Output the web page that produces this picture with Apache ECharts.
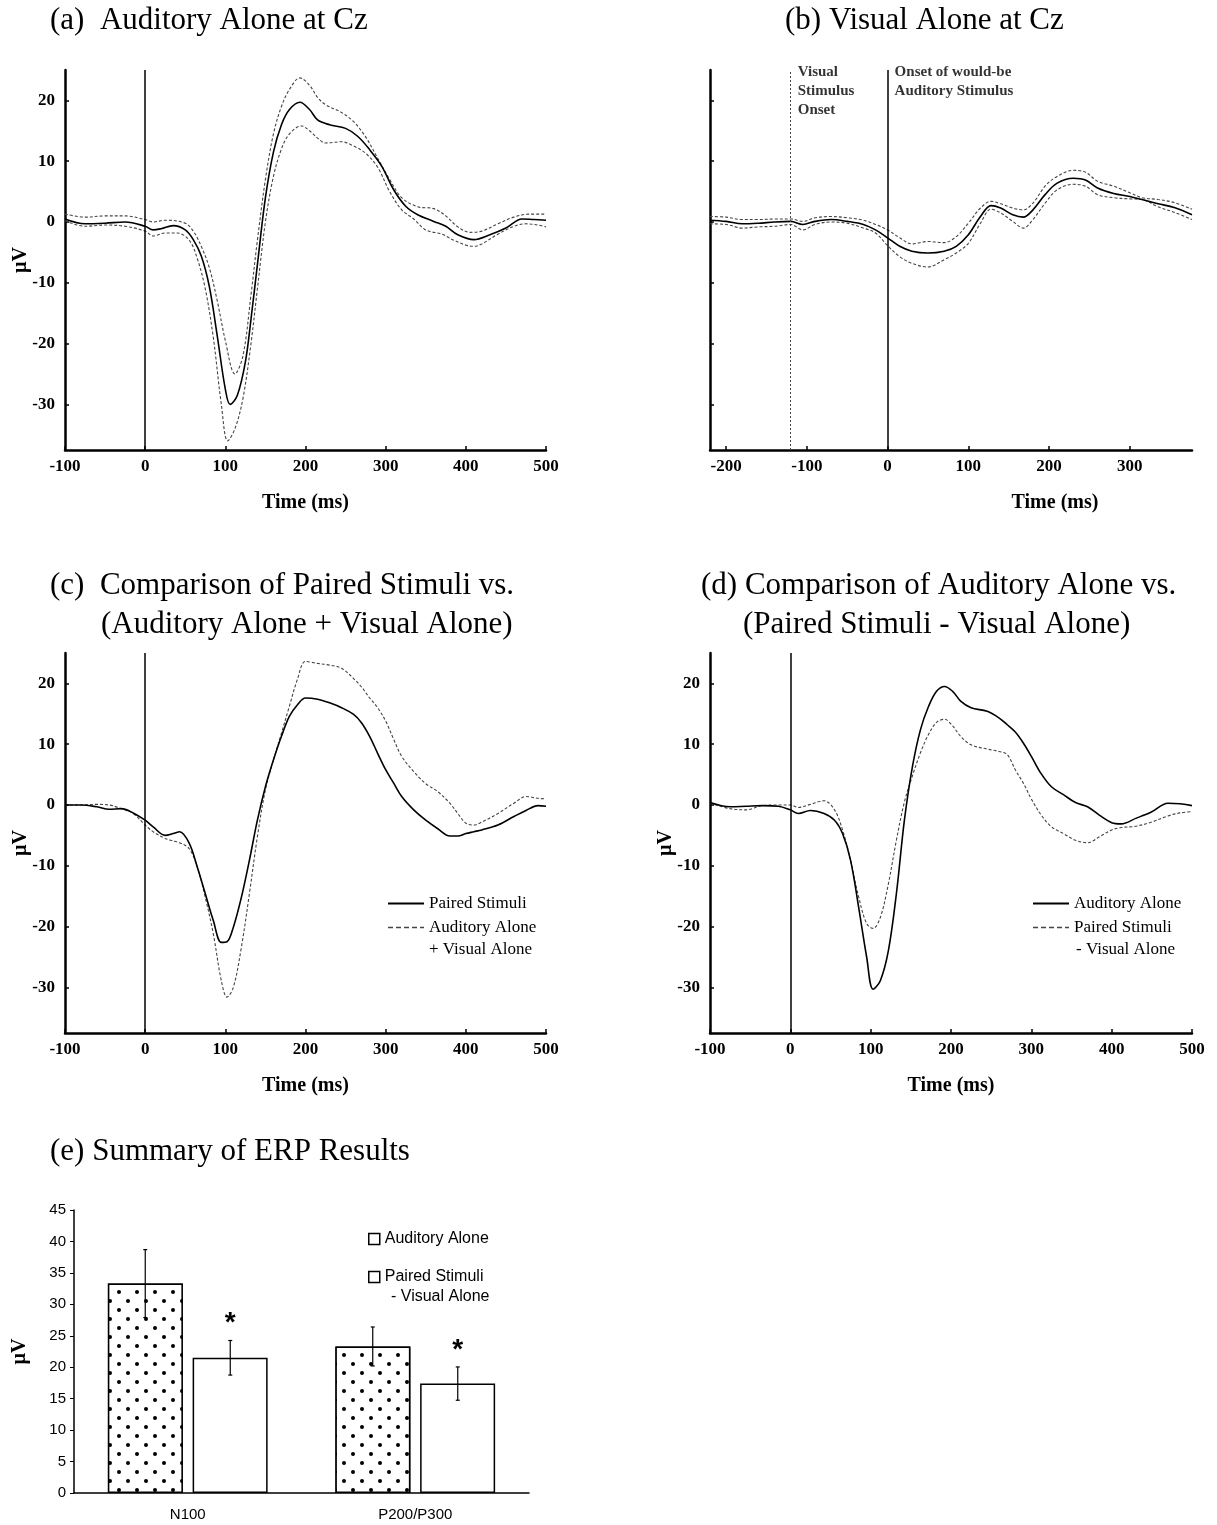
<!DOCTYPE html>
<html>
<head>
<meta charset="utf-8">
<title>ERP results</title>
<script src="https://cdn.jsdelivr.net/npm/echarts@6.0.0/dist/echarts.min.js"></script>
<style>
  body { margin: 0; background: #fff; }
  .panel { position: absolute; }
</style>
</head>
<body>
<div class="panel" id="chart-a" style="left:0;top:0;width:608px;height:530px"></div>
<div class="panel" id="chart-b" style="left:608px;top:0;width:609px;height:530px"></div>
<div class="panel" id="chart-c" style="left:0;top:540px;width:608px;height:570px"></div>
<div class="panel" id="chart-d" style="left:608px;top:540px;width:609px;height:570px"></div>
<div class="panel" id="chart-e" style="left:0;top:1110px;width:608px;height:415px"></div>
<script>
const SERIF = 'Liberation Serif'
const SANS = 'Liberation Sans'

// tick values
const voltTicks = [-30, -20, -10, 0, 10, 20]
const erpTimeTicks = [-100, 0, 100, 200, 300, 400, 500]
const visTimeTicks = [-200, -100, 0, 100, 200, 300]

// (a) auditory alone at Cz: mean and dashed bounds
const aMeanT = [-100, -75, -50, -25, 0, 10, 20, 35, 50, 60, 70, 80, 90, 100, 106, 115, 125, 132, 140, 150, 160, 170, 180, 193, 205, 215, 230, 250, 265, 280, 295, 310, 325, 340, 360, 375, 390, 410, 430, 450, 470, 485, 500]
const aMeanV = [0.5, -0.3, -0.2, 0, -0.7, -1.3, -1.1, -0.6, -1.3, -2.9, -5.6, -10.6, -18.8, -27.5, -30, -28.5, -23, -16, -7, 4, 11.5, 16, 18.5, 19.7, 18.5, 16.8, 16, 15.4, 14.1, 11.9, 9.2, 5.3, 2.6, 1.2, 0.1, -0.7, -2.1, -2.9, -2.1, -1, 0.5, 0.4, 0.3]
const aUpperT = [-100, -75, -50, -25, 0, 10, 25, 50, 60, 70, 80, 90, 100, 112, 122, 132, 140, 150, 160, 170, 180, 193, 205, 215, 225, 245, 260, 275, 290, 305, 320, 340, 360, 375, 390, 405, 420, 440, 460, 480, 500]
const aUpperV = [1.3, 0.8, 1.0, 1.0, 0.4, 0, 0.3, -0.2, -1.5, -4, -7.5, -13, -19.5, -25, -22, -12, -3, 7, 14.5, 19, 21.8, 23.7, 22.5, 20.5, 19.3, 18, 16.5, 14, 10.5, 7, 4, 2.5, 2.2, 1, -0.8, -1.7, -1.5, -0.3, 0.8, 1.3, 1.3]
const aLowerT = [-100, -75, -50, -25, 0, 10, 25, 40, 55, 65, 75, 85, 95, 103, 112, 122, 132, 140, 150, 160, 170, 180, 195, 205, 215, 225, 245, 260, 275, 290, 305, 320, 335, 350, 370, 385, 400, 410, 420, 440, 460, 475, 490, 500]
const aLowerV = [0.2, -0.7, -0.5, -0.7, -1.5, -2.3, -1.8, -1.8, -3, -6, -11, -19, -30, -36, -34, -29, -20, -11, 0, 7.5, 12, 14.5, 15.8, 15, 13.8, 13, 13.2, 12.5, 11.3, 9, 5, 2, 0.5, -1.3, -2, -3, -3.8, -4, -3.6, -2, -0.7, -0.3, -0.5, -0.8]

// (b) visual alone at Cz
const bT = [-220, -200, -180, -160, -140, -120, -105, -90, -70, -50, -30, -15, 0, 15, 30, 50, 70, 85, 100, 115, 128, 140, 155, 168, 180, 195, 210, 230, 245, 260, 280, 300, 315, 335, 355, 377]
const bMeanV = [0.3, 0.1, -0.3, -0.2, 0, 0.1, -0.4, 0.1, 0.4, 0.1, -0.4, -1.3, -2.6, -4, -4.8, -5.1, -4.8, -4, -2.1, 0.9, 2.7, 2.3, 1.2, 0.8, 2, 4.5, 6.4, 7.2, 6.9, 5.6, 4.7, 4.2, 3.7, 3.0, 2.4, 1.2]
const bUpperV = [0.9, 0.8, 0.4, 0.4, 0.5, 0.5, 0.1, 0.7, 0.9, 0.7, 0.3, -0.4, -1.3, -2.6, -3.6, -3.2, -3.4, -2.4, -0.2, 2.3, 3.4, 3.0, 2.3, 2.0, 3.1, 5.9, 7.5, 8.5, 8.2, 6.7, 5.9, 4.8, 4.0, 3.7, 3.2, 2.1]
const bLowerV = [-0.3, -0.4, -1.0, -0.8, -0.7, -0.4, -1.3, -0.4, 0, -0.2, -1.0, -1.8, -3.9, -5.7, -6.8, -7.4, -6.2, -5.1, -3.5, -0.2, 2.1, 1.5, 0.1, -1.0, 0.4, 3.1, 5.3, 6.2, 5.9, 4.5, 4.0, 3.8, 3.7, 2.5, 1.6, 0.4]
const markerTimes = [-120, 0]
const markerLabels = ['Visual\nStimulus\nOnset', 'Onset of would-be\nAuditory Stimulus']

// (c) paired stimuli vs auditory + visual
const cT = [-100, -80, -60, -45, -30, -15, 0, 10, 25, 35, 43, 55, 65, 75, 85, 95, 102, 110, 120, 130, 140, 150, 160, 170, 180, 190, 200, 215, 230, 245, 260, 270, 280, 290, 300, 310, 320, 335, 350, 365, 380, 390, 400, 410, 420, 440, 460, 475, 490, 500]
const cPairedV = [0, 0, -0.3, -0.7, -0.6, -1.3, -2.5, -3.6, -5.0, -4.7, -4.4, -6.3, -10.2, -14.6, -19, -22.6, -22.5, -20.1, -15.2, -9.1, -2.5, 3, 7.4, 11.3, 14.6, 16.5, 17.6, 17.4, 16.8, 16, 14.9, 13.5, 11.3, 8.5, 5.8, 3.6, 1.4, -0.8, -2.5, -3.9, -5.1, -5.1, -4.7, -4.4, -4.1, -3.3, -1.9, -0.9, -0.1, -0.2]
const cSumV = [0, 0, 0.1, 0, -0.6, -1.4, -3.3, -4.4, -5.5, -5.9, -6.2, -7.2, -10.2, -15.2, -21.2, -28.9, -31.6, -30, -23.4, -14.6, -5.2, 2.5, 7.4, 11.8, 16.3, 20.7, 23.6, 23.3, 23, 22.5, 20.8, 19.4, 17.6, 16, 13.8, 10.8, 8, 5.5, 3.5, 2.2, 0.3, -1.4, -3, -3.3, -2.8, -1.4, 0.3, 1.4, 1.1, 1.0]

// (d) auditory alone vs paired - visual
const dT = [-100, -75, -55, -35, -15, 0, 10, 25, 42, 55, 65, 75, 85, 95, 103, 112, 122, 132, 142, 152, 162, 172, 182, 192, 202, 212, 225, 245, 260, 270, 280, 290, 300, 312, 325, 340, 355, 370, 385, 400, 412, 430, 450, 470, 485, 500]
const dAudV = [0.4, -0.3, -0.2, -0.1, -0.2, -0.8, -1.4, -0.9, -1.4, -2.5, -4.7, -9.1, -16.8, -25, -30.3, -28.9, -24, -14.6, -2.5, 6.3, 12.4, 16.2, 18.7, 19.5, 18.7, 17.1, 16, 15.4, 14.3, 13.2, 12, 10.2, 8, 5.2, 3.0, 1.7, 0.4, -0.3, -1.7, -2.9, -3.1, -2.2, -1.1, 0.3, 0.2, -0.1]
const dDiffV = [0.3, -0.6, -0.8, -0.1, 0, 0, -0.4, 0.1, 0.7, -0.8, -4.1, -9.1, -15.1, -19.5, -20.3, -18.5, -13, -5.8, 0.5, 4.8, 8.6, 11.6, 13.6, 14.1, 13, 11.3, 9.9, 9.2, 8.8, 8.3, 5.8, 3.6, 1, -1.6, -3.6, -4.7, -5.8, -6.2, -5.2, -4.1, -3.7, -3.5, -2.8, -1.8, -1.3, -1.1]

// (e) summary bars
const components = ['N100', 'P200/P300']
const audAmp = [33.3, 23.3]
const audErr = [5.4, 3.1]
const pairAmp = [21.5, 17.4]
const pairErr = [2.75, 2.65]

const pts = (ts, vs) => ts.map((t, i) => [t, vs[i]])
const firstLine = name => name.split('\n')[0]

const titleStyle = { fontFamily: SERIF, fontWeight: 'normal', fontSize: 31, color: '#000' }
const title = (text, left, top) => ({ text, left, top, padding: 0, textStyle: titleStyle })

// second line of a two-line legend entry, drawn under its first line
const legendTail = (text, left, top, font) => ({
  type: 'text', left, top, silent: true, style: { text, font, fill: '#000' }
})

function timeAxis(min, max, ticks, nameShift) {
  return {
    type: 'value', min, max,
    name: 'Time (ms)', nameLocation: 'middle', nameGap: 43,
    nameTextStyle: { fontFamily: SERIF, fontWeight: 'bold', fontSize: 20, color: '#000', padding: [0, 0, 0, nameShift] },
    axisLine: { onZero: false, lineStyle: { color: '#000', width: 2.5 } },
    axisTick: { inside: true, length: 4, customValues: ticks, lineStyle: { color: '#000', width: 1.5 } },
    axisLabel: { customValues: ticks, margin: 8, fontFamily: SERIF, fontWeight: 'bold', fontSize: 17, color: '#000' },
    splitLine: { show: false }
  }
}

function voltAxis(withLabels) {
  return {
    type: 'value', min: -37.5, max: 25,
    name: withLabels ? 'µV' : '', nameLocation: 'middle', nameGap: 34, nameRotate: 90,
    nameMoveOverlap: false,
    nameTextStyle: { fontFamily: SERIF, fontWeight: 'bold', fontSize: 20, color: '#000' },
    axisLine: { show: true, onZero: false, lineStyle: { color: '#000', width: 2.5 } },
    axisTick: { show: true, inside: true, length: 4, customValues: voltTicks, lineStyle: { color: '#000', width: 1.5 } },
    axisLabel: { show: withLabels, customValues: voltTicks, margin: 10, fontFamily: SERIF, fontWeight: 'bold', fontSize: 17, color: '#000' },
    splitLine: { show: false }
  }
}

function erpLine(name, ts, vs, dashed) {
  return {
    name, type: 'line', data: pts(ts, vs), smooth: 0.35, symbol: 'none', silent: true,
    lineStyle: dashed ? { color: '#444', width: 1.1, type: [3, 2] } : { color: '#000', width: 1.6 },
    itemStyle: { color: dashed ? '#444' : '#000' }
  }
}

const onsetLine = {
  silent: true, symbol: 'none', label: { show: false },
  lineStyle: { color: '#000', width: 1.5, type: 'solid' },
  data: [{ xAxis: 0 }]
}

function erpLegend(left, solidName, dashedName) {
  return {
    orient: 'vertical', left, top: 355, padding: 0, itemGap: 7, itemWidth: 36, itemHeight: 10,
    itemStyle: { opacity: 0 },
    formatter: firstLine,
    textStyle: { fontFamily: SERIF, fontSize: 17, color: '#000' },
    data: [
      { name: solidName },
      { name: dashedName, lineStyle: { type: [5, 3], width: 1.5 } }
    ]
  }
}

const grid = (left, top, width, height) => ({ left, top, width, height, outerBoundsMode: 'none' })

function render(id, option) {
  const chart = echarts.init(document.getElementById(id))
  chart.setOption(Object.assign({ animation: false }, option))
}

render('chart-a', {
  title: [title('(a)  Auditory Alone at Cz', 50, 5)],
  grid: grid(65, 70, 481, 380),
  xAxis: timeAxis(-100, 500, erpTimeTicks, 0),
  yAxis: voltAxis(true),
  series: [
    erpLine('Upper bound', aUpperT, aUpperV, true),
    erpLine('Lower bound', aLowerT, aLowerV, true),
    Object.assign(erpLine('Auditory Alone', aMeanT, aMeanV, false), { markLine: onsetLine })
  ]
})

render('chart-b', {
  title: [title('(b) Visual Alone at Cz', 177, 5)],
  grid: grid(102, 70, 482, 380),
  xAxis: timeAxis(-220, 377, visTimeTicks, 208),
  yAxis: voltAxis(false),
  series: [
    erpLine('Upper bound', bT, bUpperV, true),
    erpLine('Lower bound', bT, bLowerV, true),
    erpLine('Visual Alone', bT, bMeanV, false),
    {
      type: 'scatter', symbolSize: 0, silent: true,
      data: markerTimes.map((t, i) => ({ value: [t, 25], label: { formatter: markerLabels[i] } })),
      label: {
        show: true, position: [7, -7], align: 'left', verticalAlign: 'top',
        fontFamily: SERIF, fontWeight: 'bold', fontSize: 15, lineHeight: 19, color: '#000'
      },
      markLine: {
        silent: true, symbol: 'none', label: { show: false },
        data: [
          { xAxis: markerTimes[0], lineStyle: { color: '#444', width: 1, type: [2, 2] } },
          { xAxis: markerTimes[1], lineStyle: { color: '#000', width: 1.5, type: 'solid' } }
        ]
      }
    }
  ]
})

render('chart-c', {
  title: [
    title('(c)  Comparison of Paired Stimuli vs.', 50, 30),
    title('(Auditory Alone + Visual Alone)', 101, 69)
  ],
  grid: grid(65, 113, 481, 380),
  legend: erpLegend(387, 'Paired Stimuli', 'Auditory Alone\n+ Visual Alone'),
  graphic: [legendTail('+ Visual Alone', 429, 401, '17px ' + SERIF)],
  xAxis: timeAxis(-100, 500, erpTimeTicks, 0),
  yAxis: voltAxis(true),
  series: [
    erpLine('Auditory Alone\n+ Visual Alone', cT, cSumV, true),
    Object.assign(erpLine('Paired Stimuli', cT, cPairedV, false), { markLine: onsetLine })
  ]
})

render('chart-d', {
  title: [
    title('(d) Comparison of Auditory Alone vs.', 93, 30),
    title('(Paired Stimuli - Visual Alone)', 135, 69)
  ],
  grid: grid(102, 113, 482, 380),
  legend: erpLegend(424, 'Auditory Alone', 'Paired Stimuli\n- Visual Alone'),
  graphic: [legendTail('- Visual Alone', 468, 401, '17px ' + SERIF)],
  xAxis: timeAxis(-100, 500, erpTimeTicks, 0),
  yAxis: voltAxis(true),
  series: [
    erpLine('Paired Stimuli\n- Visual Alone', dT, dDiffV, true),
    Object.assign(erpLine('Auditory Alone', dT, dAudV, false), { markLine: onsetLine })
  ]
})

const dotDecal = {
  symbol: 'circle', symbolSize: 1, color: '#000', backgroundColor: '#fff',
  dashArrayX: [[4, 14], [0, 9, 4, 5]], dashArrayY: [4, 5]
}

function errorBars(vals, errs, shift, star) {
  return {
    type: 'custom', silent: true, z: 5,
    data: vals.map((v, i) => [i, v, errs[i]]),
    renderItem(params, api) {
      const hi = api.coord([api.value(0), api.value(1) + api.value(2)])
      const lo = api.coord([api.value(0), api.value(1) - api.value(2)])
      const x = hi[0] + shift
      const st = { stroke: '#000', lineWidth: 1.2 }
      const children = [
        { type: 'line', shape: { x1: x, y1: hi[1], x2: x, y2: lo[1] }, style: st },
        { type: 'line', shape: { x1: x - 2, y1: hi[1], x2: x + 2, y2: hi[1] }, style: st },
        { type: 'line', shape: { x1: x - 2, y1: lo[1], x2: x + 2, y2: lo[1] }, style: st }
      ]
      if (star) {
        children.push({
          type: 'text', x, y: hi[1] - 3,
          style: { text: '*', font: 'bold 28px ' + SANS, fill: '#000', align: 'center', verticalAlign: 'bottom' }
        })
      }
      return { type: 'group', children }
    }
  }
}

render('chart-e', {
  title: [title('(e) Summary of ERP Results', 50, 26)],
  grid: grid(74, 100, 455, 283),
  legend: {
    orient: 'vertical', left: 368, top: 121, padding: 0, itemGap: 22, icon: 'rect',
    itemWidth: 11, itemHeight: 11, formatter: firstLine,
    itemStyle: { color: '#fff', borderColor: '#000', borderWidth: 1.5, decal: 'none' },
    textStyle: { fontFamily: SANS, fontSize: 16, color: '#000' },
    data: [{ name: 'Auditory Alone' }, { name: 'Paired Stimuli\n - Visual Alone' }]
  },
  graphic: [legendTail('- Visual Alone', 391, 179, '16px ' + SANS)],
  xAxis: {
    type: 'category', data: components,
    axisLine: { lineStyle: { color: '#000', width: 1.5 } },
    axisTick: { length: 5, lineStyle: { color: '#000' } },
    axisLabel: { fontFamily: SANS, fontSize: 15, color: '#000', margin: 14 }
  },
  yAxis: {
    type: 'value', min: 0, max: 45, interval: 5,
    name: 'µV', nameLocation: 'middle', nameGap: 44, nameRotate: 90,
    nameTextStyle: { fontFamily: SERIF, fontWeight: 'bold', fontSize: 20, color: '#000' },
    axisLine: { show: true, lineStyle: { color: '#000', width: 1.5 } },
    axisTick: { show: true, length: 4, lineStyle: { color: '#000' } },
    axisLabel: { fontFamily: SANS, fontSize: 15, color: '#000', margin: 8 },
    splitLine: { show: false }
  },
  series: [
    {
      name: 'Auditory Alone', type: 'bar', data: audAmp, barWidth: 75, barGap: '13%',
      itemStyle: { color: '#fff', borderColor: '#000', borderWidth: 1.5, decal: dotDecal }
    },
    {
      name: 'Paired Stimuli\n - Visual Alone', type: 'bar', data: pairAmp, barWidth: 75,
      itemStyle: { color: '#fff', borderColor: '#000', borderWidth: 1.5 }
    },
    errorBars(audAmp, audErr, -42.5, false),
    errorBars(pairAmp, pairErr, 42.5, true)
  ]
})
</script>
</body>
</html>
